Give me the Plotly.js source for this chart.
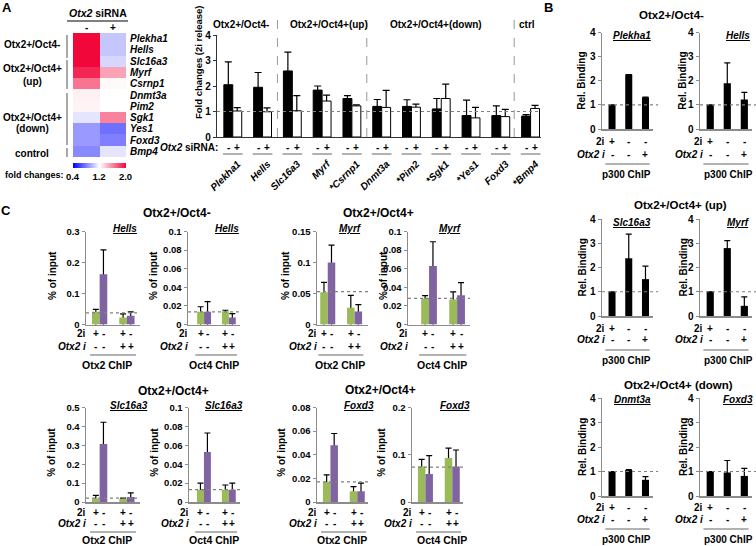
<!DOCTYPE html>
<html>
<head>
<meta charset="utf-8">
<script src="https://cdn.plot.ly/plotly-3.0.1.min.js"></script>
<style>
html,body{margin:0;padding:0;background:#ffffff;}
#fig{width:756px;height:546px;}
</style>
</head>
<body>
<div id="fig"></div>
<script>
// ================= DATA =================
// Panel A: heat map + bar chart (fold changes, 2i release)
const genes = ['Plekha1','Hells','Slc16a3','Myrf','Csrnp1','Dnmt3a','Pim2','Sgk1','Yes1','Foxd3','Bmp4'];
const starred = [false,false,false,false,true,false,true,true,true,false,true];
const siRNA = ['-','+'];
const heatMinus = [2.0,2.0,2.0,1.9,1.65,1.25,1.24,1.12,0.88,0.88,0.83];
const heatPlus  = [1.02,1.02,1.07,1.5,1.22,1.2,1.2,1.6,0.75,0.8,1.12];
const colorTicks = [0.4,1.2,2.0];
const foldMinus    = [2.05,1.95,2.59,1.84,1.51,1.20,1.20,1.10,0.84,0.84,0.82];
const foldMinusErr = [0.90,0.58,0.74,0.16,0.11,0.27,0.26,0.41,0.61,0.38,0.06];
const foldPlus     = [1.02,0.99,1.03,1.41,1.22,1.16,1.17,1.51,0.75,0.80,1.12];
const foldPlusErr  = [0.13,0.15,0.59,0.23,0.04,0.67,0.12,0.56,0.41,0.28,0.12];
const groupsA = ['Otx2+/Oct4-','Otx2+/Oct4+(up)','Otx2+/Oct4+(down)','ctrl'];
const heatGroups = [['Otx2+/Oct4-'],['Otx2+/Oct4+','(up)'],['Otx2+/Oct4+','(down)'],['control']];

// Panel B: p300 ChIP, relative binding
const bTitles = ['Otx2+/Oct4-','Otx2+/Oct4+ (up)','Otx2+/Oct4+ (down)'];
const bGenes = ['Plekha1','Hells','Slc16a3','Myrf','Dnmt3a','Foxd3'];
const bConditions = ['2i','release','release + Otx2 i'];
const b2i   = ['+','-','-'];
const bOtx2 = ['-','-','+'];
const bValues = [[1,2.26,1.32],[1,1.90,1.22],[1,2.38,1.52],[1,2.80,0.42],[1,1.06,0.66],[1,0.96,0.82]];
const bErrors = [[0,0,0],[0,0.84,0.30],[0,1.00,0.54],[0,0.31,0.37],[0,0.02,0.13],[0,0.49,0.31]];
const bRef = 1;

// Panel C: Otx2 / Oct4 ChIP, % of input
const cTitles = ['Otx2+/Oct4-','Otx2+/Oct4+','Otx2+/Oct4+','Otx2+/Oct4+'];
const cGenes = ['Hells','Hells','Myrf','Myrf','Slc16a3','Slc16a3','Foxd3','Foxd3'];
const cChip  = ['Otx2 ChIP','Oct4 ChIP','Otx2 ChIP','Oct4 ChIP','Otx2 ChIP','Oct4 ChIP','Otx2 ChIP','Oct4 ChIP'];
const cGroups = ['control','Otx2 i'];
const c2iGreen = '+', c2iPurple = '-';
const cOtx2 = ['-','+'];
const cGreen     = [[0.041,0.0225],[0.0136,0.0143],[0.052,0.027],[0.028,0.027],[0.018,0.016],[0.013,0.013],[0.017,0.009],[0.075,0.093]];
const cGreenErr  = [[0.008,0.012],[0.0055,0.001],[0.016,0.020],[0.003,0.008],[0.017,0.005],[0.007,0.005],[0.006,0.004],[0.015,0.021]];
const cPurple    = [[0.162,0.028],[0.0136,0.0075],[0.100,0.021],[0.063,0.0314],[0.307,0.027],[0.053,0.013],[0.048,0.009],[0.059,0.075]];
const cPurpleErr = [[0.079,0.013],[0.011,0.0043],[0.028,0.011],[0.026,0.0136],[0.115,0.021],[0.020,0.007],[0.010,0.007],[0.039,0.035]];
const cRef = [0.0375,0.0136,0.053,0.028,0.02,0.013,0.017,0.074];
const cMax = [0.3,0.1,0.15,0.1,0.5,0.1,0.08,0.2];
const cStep = [0.1,0.02,0.05,0.02,0.1,0.02,0.02,0.1];

// ================= HELPERS =================
const W = 756, H = 546;
const FONT = 'Liberation Sans, Arial, sans-serif';
const GREEN = '#9bbb59', PURPLE = '#8064a2';
const px = v => v / W;
const py = v => 1 - v / H;
const data = [];
const layout = {
  width:W, height:H, margin:{l:0,r:0,t:0,b:0,pad:0},
  paper_bgcolor:'#ffffff', plot_bgcolor:'rgba(0,0,0,0)', showlegend:false, barmode:'overlay',
  font:{family:FONT,size:10,color:'#000000',weight:'bold'},
  annotations:[], shapes:[]
};
const sfx = k => (k === 1 ? '' : String(k));
function f(size, extra){ return Object.assign({family:FONT,size:size,color:'#000000',weight:'bold'}, extra||{}); }
function setAxes(k, b, xo, yo){
  const s = sfx(k);
  layout['xaxis'+s] = Object.assign({domain:[px(b.x0),px(b.x1)],anchor:'y'+s,showgrid:false,zeroline:false,fixedrange:true}, xo);
  layout['yaxis'+s] = Object.assign({domain:[py(b.bottom),py(b.top)],anchor:'x'+s,showgrid:false,zeroline:false,fixedrange:true}, yo);
}
function ann(x, y, text, o){
  o = o || {};
  const a = Object.assign({x:px(x),y:py(y),xref:'paper',yref:'paper',text:text,showarrow:false,xanchor:'center',yanchor:'middle',borderpad:0}, o);
  a.font = f(o.size||10, o.fx);
  delete a.size; delete a.fx;
  layout.annotations.push(a);
}
function annD(k, xd, y, text, o){ ann(0, y, text, Object.assign({xref:'x'+sfx(k), x:xd}, o||{})); }
function lineP(x0,y0,x1,y1,color,width,dash){
  layout.shapes.push({type:'line',xref:'paper',yref:'paper',x0:px(x0),y0:py(y0),x1:px(x1),y1:py(y1),line:{color:color,width:width,dash:dash||'solid'}});
}
function lineDx(k,xa,xb,y,color,width){
  layout.shapes.push({type:'line',xref:'x'+sfx(k),yref:'paper',x0:xa,x1:xb,y0:py(y),y1:py(y),line:{color:color,width:width}});
}
function refLine(k,v,ext){
  layout.shapes.push({type:'line',xref:'x'+sfx(k)+' domain',yref:'y'+sfx(k),x0:0,x1:ext,y0:v,y1:v,line:{color:'#808080',width:1.2,dash:'dot'}});
}
// bar with upward-only error bar: transparent carrier holds the error bar, real bar drawn on top hides the stem
function bars(k,x,y,err,off,wid,color,lineCol,lineW,capW){
  const s = sfx(k);
  data.push({type:'bar',x:x,y:y,xaxis:'x'+s,yaxis:'y'+s,offset:off,width:wid,hoverinfo:'skip',
    marker:{color:'rgba(0,0,0,0)',line:{width:0}},
    error_y:{type:'data',symmetric:false,array:err,arrayminus:y.map(v=>v+10),color:'#000000',thickness:1.2,width:capW}});
  data.push({type:'bar',x:x,y:y,xaxis:'x'+s,yaxis:'y'+s,offset:off,width:wid,hoverinfo:'skip',
    marker:{color:color,line:{color:lineCol,width:lineW}}});
}

// ================= PANEL A =================
ann(7,8,'A',{size:13});
// heat map
setAxes(2,{x0:73,x1:126,top:33,bottom:157},
  {type:'category',showticklabels:false,showline:false,ticks:''},
  {type:'category',autorange:'reversed',side:'right',showline:false,ticks:'',tickmode:'array',tickvals:genes,ticktext:genes,
   ticklabelstandoff:3,tickfont:f(10,{style:'italic'})});
data.push({type:'heatmap',x:siRNA,y:genes,z:genes.map((g,i)=>[heatMinus[i],heatPlus[i]]),xaxis:'x2',yaxis:'y2',
  zmin:0.4,zmax:2.0,colorscale:[[0,'#0000ff'],[0.5,'#ffffff'],[1,'#f2073b']],hoverinfo:'skip',showscale:true,
  colorbar:{orientation:'h',x:px(99),xanchor:'center',y:py(163),yanchor:'top',len:53,lenmode:'pixels',thickness:5,thicknessmode:'pixels',
    xpad:0,ypad:0,outlinewidth:0,tickmode:'array',tickvals:colorTicks,ticktext:colorTicks.map(v=>v.toFixed(1)),ticks:'',tickfont:f(9.5)}});
ann(98,13,'<i>Otx2</i> siRNA',{size:10.5});
lineP(67,21,128,21,'#000000',1.2);
siRNA.forEach((s,i)=>annD(2,i,27,s));
ann(65,175,'fold changes:',{size:9,xanchor:'right'});
const heatGroupY = [[44],[68,81],[117,128],[153]];
heatGroups.forEach((g,i)=>g.forEach((t,j)=>ann(32,heatGroupY[i][j],t,{size:10})));
[[35,58],[60,89],[93,145],[148,157]].forEach(s=>lineP(67,s[0],67,s[1],'#8c8c8c',1.5));

// bar chart
setAxes(1,{x0:217,x1:541,top:35,bottom:137},
  {type:'category',range:[-0.53,10.35],showline:true,linecolor:'#333333',linewidth:1.2,ticks:'',tickmode:'array',
   tickvals:genes,ticktext:genes.map((g,i)=>(starred[i]?'*':'')+g),tickangle:-45,ticklabelstandoff:16,ticklabelshift:5,tickfont:f(10,{style:'italic'})},
  {range:[0,4],tickmode:'linear',tick0:0,dtick:1,showline:true,linecolor:'#333333',linewidth:1.2,ticks:'outside',ticklen:3,tickcolor:'#333333',tickfont:f(10)});
bars(1,genes,foldMinus,foldMinusErr,-0.3,0.3,'#000000','#000000',1,3.5);
bars(1,genes,foldPlus,foldPlusErr,0,0.3,'#ffffff','#000000',1,3.5);
refLine(1,1,1);
[1.5,4.5,9.45].forEach(xv=>layout.shapes.push({type:'line',xref:'x',yref:'paper',x0:xv,x1:xv,y0:py(137),y1:py(15),line:{color:'#999999',width:1,dash:'dash'}}));
const headerX = [241,329,436,527];
groupsA.forEach((t,i)=>ann(headerX[i],25,t,{size:10}));
ann(198,62,'Fold changes (2i release)',{textangle:-90,size:9.5});
ann(219,148,'<i>Otx2</i> siRNA:',{xanchor:'right',size:10});
genes.forEach((g,i)=>{
  annD(1,i-0.15,148,siRNA[0]);
  annD(1,i+0.15,148,siRNA[1]);
  lineDx(1,i-0.33,i+0.33,154,'#999999',1.5);
});

// ================= PANEL B =================
ann(548,8,'B',{size:13});
const bCols = [{x0:602,x1:653,ytx:582,genex:632,chipx:626},{x0:700,x1:752,ytx:683,genex:738,chipx:728}];
const bRows = [
  {top:32.5,bottom:129,tx:671,ty:15,gy:35,r1:142,r2:154,ln:164,lab:175},
  {top:219,bottom:316,tx:680,ty:205,gy:222,r1:328,r2:339,ln:350,lab:360},
  {top:398,bottom:496,tx:678,ty:385,gy:399,r1:507,r2:519,ln:529,lab:539}];
bTitles.forEach((t,r)=>ann(bRows[r].tx,bRows[r].ty,t,{size:11.5}));
bGenes.forEach((g,i)=>{
  const k = 3+i, r = bRows[Math.floor(i/2)], c = bCols[i%2];
  setAxes(k,{x0:c.x0,x1:c.x1,top:r.top,bottom:r.bottom},
    {type:'category',range:[-0.6,2.45],showline:true,linecolor:'#8c8c8c',linewidth:1.5,ticks:'',showticklabels:false},
    {range:[0,4],tickmode:'linear',tick0:0,dtick:1,showline:true,linecolor:'#8c8c8c',linewidth:1.5,ticks:'outside',ticklen:3,tickcolor:'#8c8c8c',tickfont:f(10)});
  bars(k,bConditions,bValues[i],bErrors[i],-0.21,0.42,'#000000','#000000',0,3);
  refLine(k,bRef,1.1);
  ann(c.genex,r.gy,g,{size:10,fx:{style:'italic',lineposition:'under'}});
  ann(c.ytx,(r.top+r.bottom)/2,'Rel. Binding',{textangle:-90,size:10});
  ann(c.x0+4,r.r1,'2i',{xanchor:'right'});
  ann(c.x0+4,r.r2,'<i>Otx2 i</i>',{xanchor:'right'});
  bConditions.forEach((cd,j)=>{ annD(k,j,r.r1,b2i[j]); annD(k,j,r.r2,bOtx2[j]); });
  lineDx(k,-0.4,2.25,r.ln,'#999999',1.5);
  ann(c.chipx,r.lab,'p300 ChIP',{size:10});
});

// ================= PANEL C =================
ann(6,211,'C',{size:13});
const cBoxes = [
  {x0:86,x1:140,rng:[-0.5,1.48]},{x0:188,x1:240,rng:[-0.65,1.45]},{x0:317,x1:368,rng:[-0.4,1.5]},{x0:408,x1:470,rng:[-0.75,1.46]},
  {x0:86,x1:140,rng:[-0.5,1.48]},{x0:189,x1:240,rng:[-0.6,1.45]},{x0:317,x1:368,rng:[-0.5,1.4]},{x0:412,x1:463,rng:[-0.5,1.4]}];
const cRows = [{top:231.5,bottom:324.5,r1:333,r2:346,ln:355,lab:365,gy:228},{top:407.5,bottom:502,r1:512,r2:523,ln:532,lab:540,gy:405}];
const cGeneX = [125,227,350,450,129,224,359,455];
const cChipX = [107,214,340,442,107,214,342,442];
const cYtX = [52,153,285,383,52,155,282,382];
const cTitlePos = [[177,213],[378,213],[173,391],[380,390]];
cTitles.forEach((t,i)=>ann(cTitlePos[i][0],cTitlePos[i][1],t,{size:12}));
cGenes.forEach((g,i)=>{
  const k = 9+i, b = cBoxes[i], r = cRows[Math.floor(i/4)];
  setAxes(k,{x0:b.x0,x1:b.x1,top:r.top,bottom:r.bottom},
    {type:'category',range:b.rng,showline:true,linecolor:'#8c8c8c',linewidth:1.5,ticks:'',showticklabels:false},
    {range:[0,cMax[i]],tickmode:'linear',tick0:0,dtick:cStep[i],showline:true,linecolor:'#8c8c8c',linewidth:1.5,ticks:'outside',ticklen:3,tickcolor:'#8c8c8c',tickfont:f(9.5)});
  bars(k,cGroups,cGreen[i],cGreenErr[i],-0.28,0.28,GREEN,GREEN,0,3);
  bars(k,cGroups,cPurple[i],cPurpleErr[i],0,0.28,PURPLE,PURPLE,0,3);
  refLine(k,cRef[i],1);
  ann(cGeneX[i],r.gy,g,{size:10,fx:{style:'italic',lineposition:'under'}});
  ann(cYtX[i],(r.top+r.bottom)/2-2,'% of input',{textangle:-90,size:10});
  ann(b.x0+1,r.r1,'2i',{xanchor:'right'});
  ann(b.x0+1,r.r2,'<i>Otx2 i</i>',{xanchor:'right'});
  cGroups.forEach((cg,j)=>{
    annD(k,j-0.14,r.r1,c2iGreen); annD(k,j+0.14,r.r1,c2iPurple);
    annD(k,j-0.14,r.r2,cOtx2[j]); annD(k,j+0.14,r.r2,cOtx2[j]);
  });
  lineDx(k,-0.35,1.33,r.ln,'#999999',1.5);
  ann(cChipX[i],r.lab,cChip[i],{size:10.5});
});

Plotly.newPlot('fig', data, layout, {staticPlot:true, displayModeBar:false});
</script>
</body>
</html>
